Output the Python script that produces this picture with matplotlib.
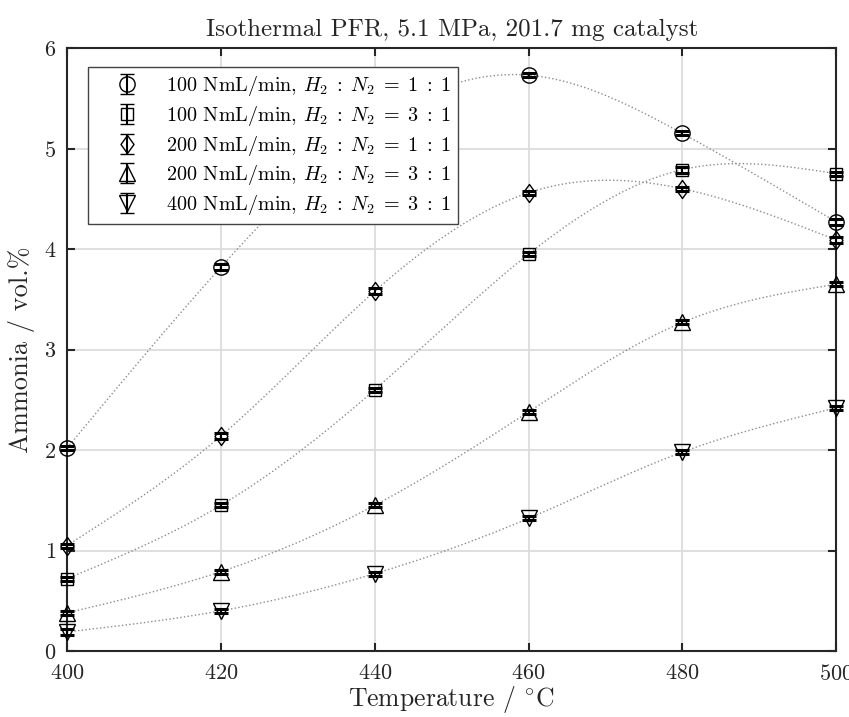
import numpy as np
import matplotlib
matplotlib.use("Agg")
import matplotlib.pyplot as plt
from matplotlib.path import Path

plt.rcParams['font.family'] = 'serif'
plt.rcParams['font.serif'] = ['cmr10']
plt.rcParams['mathtext.fontset'] = 'cm'
plt.rcParams['axes.formatter.use_mathtext'] = True

temps = [400, 420, 440, 460, 480, 500]
labels = [r"100 NmL/min, $H_2\;:\;N_2\;=\;1\;:\;1$",
          r"100 NmL/min, $H_2\;:\;N_2\;=\;3\;:\;1$",
          r"200 NmL/min, $H_2\;:\;N_2\;=\;1\;:\;1$",
          r"200 NmL/min, $H_2\;:\;N_2\;=\;3\;:\;1$",
          r"400 NmL/min, $H_2\;:\;N_2\;=\;3\;:\;1$"]
s100_11 = [2.02, 3.82, 5.25, 5.73, 5.15, 4.27]
s100_31 = [0.72, 1.45, 2.60, 3.95, 4.79, 4.75]
s200_11 = [1.05, 2.14, 3.58, 4.56, 4.60, 4.09]
s200_31 = [0.38, 0.79, 1.45, 2.38, 3.27, 3.65]
s400_31 = [0.19, 0.40, 0.77, 1.32, 1.98, 2.42]
err100_11 = [0.02, 0.03, 0.02, 0.02, 0.02, 0.03]
err100_31 = [0.02, 0.02, 0.02, 0.02, 0.03, 0.02]
err200_11 = [0.02, 0.03, 0.03, 0.02, 0.02, 0.03]
err200_31 = [0.02, 0.02, 0.02, 0.02, 0.02, 0.02]
err400_31 = [0.03, 0.02, 0.02, 0.02, 0.02, 0.02]

series = [s100_11, s100_31, s200_11, s200_31, s400_31]
errs = [err100_11, err100_31, err200_11, err200_31, err400_31]

diamond = Path([(0, 1), (0.72, 0), (0, -1), (-0.72, 0), (0, 1)],
               [Path.MOVETO, Path.LINETO, Path.LINETO, Path.LINETO, Path.CLOSEPOLY])
markers = ['o', 's', diamond, '^', 'v']
msizes = [11, 8, 13, 12, 12]


def natural_spline(x, y, xq):
    x = np.asarray(x, float)
    y = np.asarray(y, float)
    n = len(x)
    h = np.diff(x)
    A = np.zeros((n, n))
    b = np.zeros(n)
    A[0, 0] = 1
    A[-1, -1] = 1
    for i in range(1, n - 1):
        A[i, i - 1] = h[i - 1]
        A[i, i] = 2 * (h[i - 1] + h[i])
        A[i, i + 1] = h[i]
        b[i] = 3 * ((y[i + 1] - y[i]) / h[i] - (y[i] - y[i - 1]) / h[i - 1])
    c = np.linalg.solve(A, b)
    out = np.empty_like(xq)
    for k, xv in enumerate(xq):
        i = min(max(np.searchsorted(x, xv) - 1, 0), n - 2)
        dx = xv - x[i]
        bi = (y[i + 1] - y[i]) / h[i] - h[i] * (2 * c[i] + c[i + 1]) / 3
        di = (c[i + 1] - c[i]) / (3 * h[i])
        out[k] = y[i] + bi * dx + c[i] * dx ** 2 + di * dx ** 3
    return out


fig = plt.figure(figsize=(8.49, 7.17), dpi=100)
ax = fig.add_axes([0.079, 0.092, 0.906, 0.841])

xf = np.linspace(400, 500, 400)
for ys in series:
    ax.plot(xf, natural_spline(temps, ys, xf), linestyle=':', color='#8c8c8c',
            lw=1.0, zorder=2)

for ys, e, m, ms, lab in zip(series, errs, markers, msizes, labels):
    ax.errorbar(temps, ys, yerr=e, fmt='none', ecolor='black', elinewidth=1.5,
                capsize=4.7, capthick=2.2, zorder=3, clip_on=False)
    ax.plot(temps, ys, linestyle='none', marker=m, ms=ms, mfc='none',
            mec='black', mew=1.0, zorder=4, clip_on=False)
    ax.errorbar([np.nan], [np.nan], yerr=[0.1], fmt='', marker=m, linestyle='none',
                ms=ms, mfc='none', mec='black', mew=1.0, ecolor='black',
                elinewidth=1.5, capsize=4.7, capthick=2.0, label=lab)

ax.set_xlim(400, 500)
ax.set_ylim(0, 6)
ax.set_xticks([400, 420, 440, 460, 480, 500])
ax.set_yticks([0, 1, 2, 3, 4, 5, 6])
ax.grid(True, color='#dcdcdc', lw=1.3)
ax.set_axisbelow(True)
for sp in ax.spines.values():
    sp.set_color('#262626')
    sp.set_linewidth(1.5)
ax.tick_params(direction='in', top=True, right=True, length=6, width=1.5,
               color='#262626', labelsize=16, labelcolor='#262626')
ax.tick_params(axis='x', pad=9)
ax.tick_params(axis='y', pad=8)
ax.set_xlabel(r"Temperature / $^{\circ}$C", fontsize=18.5, color='#262626', labelpad=0)
ax.set_ylabel(r"Ammonia / vol.%", fontsize=19, color='#262626', labelpad=6)
ax.set_title("Isothermal PFR, 5.1 MPa, 201.7 mg catalyst", fontsize=18,
             color='#262626', pad=9)

leg = ax.legend(loc='upper left', bbox_to_anchor=(0.027, 0.968), borderaxespad=0,
                fontsize=14.5, fancybox=False, framealpha=1, edgecolor='#444444',
                handletextpad=0.35, borderpad=0.35, labelspacing=0.28,
                handlelength=3.2)
leg.get_frame().set_linewidth(1.0)
leg.set_zorder(5)

fig.savefig("out.png", dpi=100)
